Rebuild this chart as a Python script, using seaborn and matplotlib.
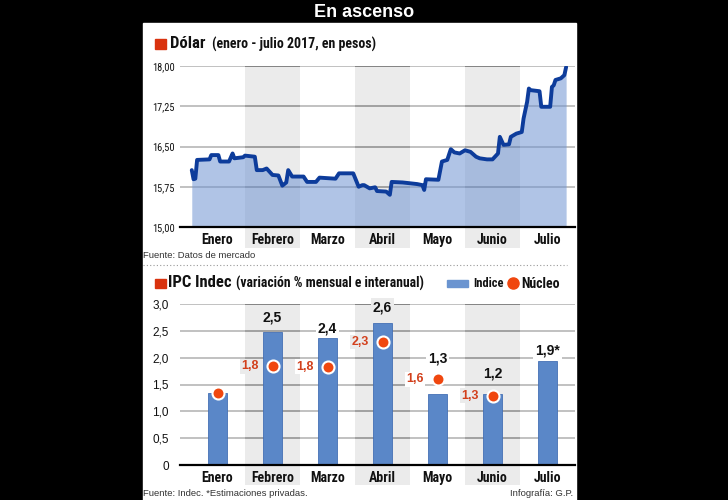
import numpy as np
import pandas as pd
import matplotlib.pyplot as plt
import seaborn as sns
from matplotlib.patches import Rectangle
from matplotlib.lines import Line2D

# Dólar (enero - julio 2017, en pesos)
fechas = ['01-02', '01-03', '01-04', '01-05', '01-12', '01-13', '01-17', '01-18',
          '01-23', '01-25', '01-26', '01-31', '02-01', '02-06', '02-07', '02-10',
          '02-12', '02-15', '02-18', '02-20', '02-22', '02-23', '02-25', '03-03',
          '03-05', '03-10', '03-12', '03-21', '03-23', '03-31', '04-03', '04-05',
          '04-06', '04-09', '04-12', '04-13', '04-18', '04-20', '04-21', '04-27',
          '05-05', '05-08', '05-09', '05-10', '05-17', '05-19', '05-22', '05-24',
          '05-26', '05-29', '06-01', '06-04', '06-07', '06-09', '06-13', '06-16',
          '06-19', '06-20', '06-22', '06-25', '06-26', '06-29', '07-02', '07-03',
          '07-05', '07-06', '07-07', '07-12', '07-13', '07-18', '07-19', '07-20',
          '07-21', '07-24', '07-26', '07-27']
dolar = [16.06, 15.89, 15.90, 16.25, 16.26, 16.34, 16.34, 16.22,
         16.22, 16.37, 16.28, 16.30, 16.33, 16.31, 16.06, 16.06,
         16.09, 15.97, 15.96, 15.77, 15.83, 16.06, 15.94, 15.94,
         15.84, 15.84, 15.92, 15.90, 16.00, 16.00, 15.75, 15.78,
         15.78, 15.72, 15.74, 15.67, 15.66, 15.60, 15.84, 15.83,
         15.80, 15.78, 15.69, 15.89, 15.88, 16.22, 16.25, 16.45,
         16.39, 16.37, 16.43, 16.40, 16.31, 16.28, 16.26, 16.26,
         16.37, 16.68, 16.53, 16.54, 16.68, 16.74, 16.77, 17.02,
         17.33, 17.58, 17.55, 17.53, 17.24, 17.24, 17.61, 17.64,
         17.74, 17.77, 17.83, 17.98]

meses = ['Enero', 'Febrero', 'Marzo', 'Abril', 'Mayo', 'Junio', 'Julio']
dolar_ticks = [15.0, 15.75, 16.5, 17.25, 18.0]
dolar_ticklabels = ['15,00', '15,75', '16,50', '17,25', '18,00']

# IPC Indec
indice = [1.35, 2.48, 2.37, 2.65, 1.32, 1.32, 1.93]
indice_txt = ['', '2,5', '2,4', '2,6', '1,3', '1,2', '1,9*']
nucleo = [1.34, 1.84, 1.83, 2.29, 1.60, 1.29, np.nan]
nucleo_txt = ['', '1,8', '1,8', '2,3', '1,6', '1,3', '']
ipc_ticks = [0, 0.5, 1.0, 1.5, 2.0, 2.5, 3.0]
ipc_ticklabels = ['0', '0,5', '1,0', '1,5', '2,0', '2,5', '3,0']

W, H = 728, 500
NARROW = ['Roboto Condensed', 'DejaVu Sans']
ARIAL = ['Liberation Sans', 'DejaVu Sans']
BAND = '#ebebeb'
RED = '#d9320e'

sns.set_theme(style='white')
plt.rcParams['font.family'] = NARROW
plt.rcParams['font.stretch'] = 'condensed'


def fx(x):
    return x / W


def fy(y):
    return 1 - y / H


fig = plt.figure(figsize=(7.28, 5.0), dpi=100, facecolor='black')
fig.patches.append(Rectangle((fx(143), 0), fx(576) - fx(143), fy(23),
                             transform=fig.transFigure, color='white', zorder=-1))

col = (575 - 190) / 7
x_left = -0.5 - 10 / col
ax1 = fig.add_axes([fx(180), fy(227), fx(575) - fx(180), fy(66) - fy(227)])
ax2 = fig.add_axes([fx(180), fy(465), fx(575) - fx(180), fy(304) - fy(465)])


def base(ax, ticks, band_low):
    ax.set_facecolor('none')
    ax.set_xlim(x_left, 6.5)
    for i in (1, 3, 5):
        ax.axvspan(i - 0.5, i + 0.5, ymin=band_low, ymax=1, color=BAND,
                   zorder=0, clip_on=False, lw=0)
    for t in ticks[1:]:
        ax.hlines(t, x_left, -0.5, color='#b0b0b0', lw=1.1, zorder=1)
        for i in range(7):
            if i % 2:
                c = '#666666' if t == ticks[-1] else '#8c8c8c'
            else:
                c = '#b0b0b0'
            ax.hlines(t, i - 0.5, i + 0.5, color=c, lw=1.1, zorder=1)
    sns.despine(ax=ax, left=True)
    ax.spines['bottom'].set_color('black')
    ax.spines['bottom'].set_linewidth(1.6)


# --- Dólar ---
d = pd.to_datetime(['2017-' + f for f in fechas])
xpos = np.asarray((d.month - 1) - 0.5 + (d.day - 1) / d.days_in_month)
base(ax1, dolar_ticks, -0.13)
ax1.fill_between(xpos, 15, dolar, color='#6f94d2', alpha=0.55, lw=0, zorder=2)
sns.lineplot(x=xpos, y=dolar, ax=ax1, color='#0d3c9b', lw=2.8, sort=False, zorder=3)
ax1.set_ylim(15, 18)
ax1.set_yticks(dolar_ticks, dolar_ticklabels)
ax1.set_xticks(range(7), meses)
ax1.tick_params(axis='y', length=0, pad=4, labelsize=7.5, labelcolor='#111')
ax1.tick_params(axis='x', length=0, pad=4.5, labelsize=10, labelcolor='#111')
for lab in ax1.get_xticklabels():
    lab.set_fontweight('bold')
ax1.set_xlabel('')
ax1.set_ylabel('')

# --- IPC ---
base(ax2, ipc_ticks, -0.124)
sns.barplot(x=np.arange(7), y=indice, native_scale=True, width=0.35, color='#5a87c8',
            saturation=1, edgecolor='#4470b5', linewidth=0.6, ax=ax2, zorder=2)
sns.scatterplot(x=np.arange(7), y=nucleo, s=75, color='#f0470f', edgecolor='white',
                linewidth=1.5, zorder=4, ax=ax2, legend=False)
ax2.set_xlim(x_left, 6.5)
ax2.set_ylim(0, 3)
ax2.set_yticks(ipc_ticks, ipc_ticklabels)
ax2.set_xticks(range(7), meses)
ax2.tick_params(axis='y', length=0, pad=8, labelsize=8.5, labelcolor='#111')
ax2.tick_params(axis='x', length=0, pad=4, labelsize=10, labelcolor='#111')
for lab in ax2.get_yticklabels():
    lab.set_fontfamily(ARIAL)
    lab.set_fontstretch('normal')
for lab in ax2.get_xticklabels():
    lab.set_fontweight('bold')
ax2.set_xlabel('')
ax2.set_ylabel('')

lbl_dy = [0, 0.26, 0.18, 0.29, 0.39, 0.39, 0.21]
for i in range(7):
    bg = BAND if i % 2 else 'white'
    if indice_txt[i]:
        top = max(indice[i], 0 if np.isnan(nucleo[i]) else nucleo[i])
        ax2.text(i, top + lbl_dy[i], indice_txt[i], ha='center', va='center',
                 fontsize=10, fontweight='bold', family=ARIAL, fontstretch='normal',
                 color='#111', bbox=dict(fc=bg, ec='none', pad=1.5), zorder=5)
    if nucleo_txt[i]:
        ax2.text(i - 0.41, nucleo[i], nucleo_txt[i], ha='center', va='center',
                 fontsize=9, fontweight='bold', family=ARIAL, fontstretch='normal',
                 color='#d2401c', bbox=dict(fc=bg, ec='none', pad=1), zorder=5)

# --- textos ---
fig.text(fx(364), fy(12.5), 'En ascenso', color='white', fontsize=13,
         fontweight='bold', family=ARIAL, fontstretch='normal', ha='center', va='center')

for y in (44, 283):
    fig.patches.append(Rectangle((fx(155), fy(y + 4.5)), fx(11), 9 / H,
                                 transform=fig.transFigure, color=RED))
fig.text(fx(170), fy(43.5), 'Dólar', fontsize=12, fontweight='bold', ha='left',
         va='center', color='#111')
fig.text(fx(212), fy(44.5), '(enero - julio 2017, en pesos)', fontsize=10,
         fontweight='bold', ha='left', va='center', color='#111')
fig.text(fx(168), fy(282.5), 'IPC Indec', fontsize=12, fontweight='bold', ha='left',
         va='center', color='#111')
fig.text(fx(236), fy(283.5), '(variación % mensual e interanual)', fontsize=9.8,
         fontweight='bold', ha='left', va='center', color='#111')

fig.patches.append(Rectangle((fx(447), fy(287)), fx(21), 7 / H,
                             transform=fig.transFigure, color='#6a94d0'))
fig.text(fx(473), fy(283.5), 'Indice', fontsize=9, fontweight='bold', ha='left',
         va='center', color='#111')
fig.add_artist(Line2D([fx(513)], [fy(283)], marker='o', ms=8, color='#f0470f',
                      transform=fig.transFigure))
fig.text(fx(521), fy(283.5), 'Núcleo', fontsize=10, fontweight='bold', ha='left',
         va='center', color='#111')

for txt, x, ha, y in [('Fuente: Datos de mercado', 143, 'left', 255),
                      ('Fuente: Indec. *Estimaciones privadas.', 143, 'left', 494),
                      ('Infografía: G.P.', 573, 'right', 494)]:
    fig.text(fx(x), fy(y), txt, fontsize=6.8, family=ARIAL, fontstretch='normal',
             ha=ha, va='center', color='#333')
fig.add_artist(Line2D([fx(143), fx(567)], [fy(265), fy(265)], ls=(0, (1, 2)),
                      lw=0.8, color='#999', transform=fig.transFigure))

fig.savefig('out.png', dpi=100, facecolor='black')
